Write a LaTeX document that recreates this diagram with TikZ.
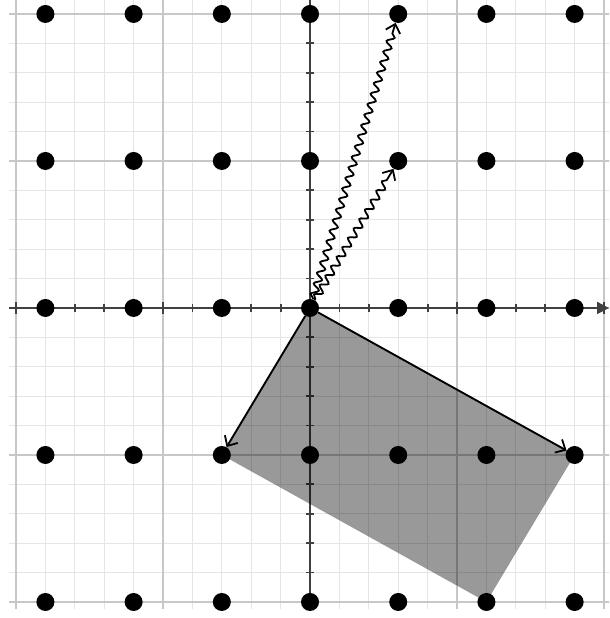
\documentclass[tikz,border=0pt]{standalone}
\usetikzlibrary{decorations.pathmorphing,arrows.meta}
\begin{document}
\begin{tikzpicture}[x=147pt,y=147pt,
  minorgrid/.style={draw=black!10,line width=1.2pt},
  majorgrid/.style={draw=black!22,line width=1.8pt},
  axisline/.style={draw=black!75,line width=2pt},
  tickmark/.style={draw=black!75,line width=1.8pt},
  latticedot/.style={circle,fill=black,inner sep=0pt,minimum size=18pt},
  vecarrow/.style={-{Straight Barb[length=8pt,width=15pt,line width=1.8pt]},line width=1.9pt},
  wavyarrow/.style={-{Straight Barb[length=8pt,width=15pt,line width=1.8pt]},line width=1.8pt,decorate,decoration={snake,amplitude=3.5pt,segment length=11pt,post length=9pt,pre length=1pt}},
  cellfill/.style={fill=black,fill opacity=0.4}]
\useasboundingbox (-2.109,-2.109) rectangle (2.034,2.095);
\clip (-2.109,-2.109) rectangle (2.034,2.095);
% grid
\draw[minorgrid] (-2.05,-2.05) grid[step=0.2] (2.2,2.2);
\draw[majorgrid] (-2.05,-2.05) grid[step=1] (2.2,2.2);
% axes
\draw[axisline,-{Triangle[length=12pt,width=12pt]}] (-2.05,0) -- (2.034,0);
\draw[axisline] (0,-2.05) -- (0,2.2);
\foreach \k in {-10,...,10}{
  \draw[tickmark] (\k*0.2,-0.025) -- (\k*0.2,0.025);
  \draw[tickmark] (-0.025,\k*0.2) -- (0.025,\k*0.2);
}
\foreach \k in {-2,...,2}{
  \draw[tickmark] (\k,-0.04) -- (\k,0.04);
  \draw[tickmark] (-0.04,\k) -- (0.04,\k);
}
% fundamental cell
\fill[cellfill] (0,0) -- (-0.6,-1) -- (1.2,-2) -- (1.8,-1) -- cycle;
% lattice points
\foreach \i in {0,...,6}{
  \foreach \j in {0,...,4}{
    \node[latticedot] (d\i\j) at ({(\i-3)*0.6},{\j-2}) {};
  }
}
% vectors
\draw[vecarrow] (d32) -- (d21);
\draw[vecarrow] (d32) -- (d61);
\draw[wavyarrow] (d32) -- (d44);
\draw[wavyarrow] (d32) -- (d43);
\end{tikzpicture}
\end{document}
